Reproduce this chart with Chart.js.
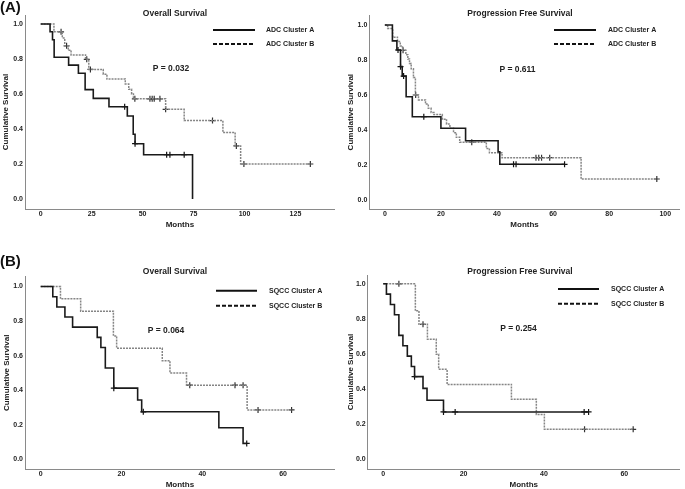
<!DOCTYPE html>
<html>
<head>
<meta charset="utf-8">
<script src="https://cdn.jsdelivr.net/npm/chart.js@4.4.1/dist/chart.umd.min.js"></script>
<style>
  body { margin: 0; background: #fff; }
  #fig { position: relative; width: 685px; height: 489px; overflow: hidden; background: #fff; }
  canvas { position: absolute; }
  .tag { position: absolute; font: bold 15px 'Liberation Sans', Arial, sans-serif; color: #111; }
</style>
</head>
<body>
<div id="fig">
  <canvas id="c1" width="340" height="236" style="left:0;top:0"></canvas>
  <canvas id="c2" width="345" height="236" style="left:340px;top:0"></canvas>
  <canvas id="c3" width="340" height="254" style="left:0;top:240px"></canvas>
  <canvas id="c4" width="345" height="254" style="left:340px;top:240px"></canvas>
  <div class="tag" style="left:0;top:-2px">(A)</div>
  <div class="tag" style="left:0;top:252px">(B)</div>
</div>
<script>
// ---- data (months / cumulative survival) ----
var yTicks = [0, 0.2, 0.4, 0.6, 0.8, 1.0];
var xTicksAdcOs = [0, 25, 50, 75, 100, 125];
var xTicksAdcPfs = [0, 20, 40, 60, 80, 100];
var xTicksSqcc = [0, 20, 40, 60];

var adcLabels = ['ADC Cluster A', 'ADC Cluster B'];
var sqccLabels = ['SQCC Cluster A', 'SQCC Cluster B'];
var titles = ['Overall Survival', 'Progression Free Survival', 'Overall Survival', 'Progression Free Survival'];
var pValues = ['P = 0.032', 'P = 0.611', 'P = 0.064', 'P = 0.254'];

// ADC overall survival
var adcOsA_t = [0, 4.6, 5.8, 6.6, 13.7, 18.5, 21.8, 25.8, 33.5, 42.5, 45.4, 46.3, 50.5, 74.5];
var adcOsA_s = [1, 0.955, 0.91, 0.81, 0.765, 0.718, 0.625, 0.575, 0.527, 0.474, 0.37, 0.316, 0.253, 0];
var adcOsA_c = [41.2, 46.3, 61.8, 63.4, 70.4];
var adcOsB_t = [0, 6.5, 10.6, 11.8, 13.5, 14.9, 22, 23.6, 30.7, 32.5, 41.5, 43.2, 44.6, 45.5, 61.3, 70.4, 89.4, 95.4, 98.1];
var adcOsB_s = [1, 0.955, 0.92, 0.875, 0.85, 0.823, 0.798, 0.74, 0.713, 0.685, 0.657, 0.627, 0.6, 0.572, 0.512, 0.448, 0.38, 0.303, 0.2];
var adcOsB_c = [10, 12.7, 22.6, 24.4, 46.2, 53.6, 54.7, 55.7, 58.5, 61.3, 84.3, 96, 99.7, 132.3];

// ADC progression free survival
var adcPfsA_t = [0, 2.7, 4.3, 5.6, 6.2, 7.6, 9.8, 20, 28.8, 40.4, 41];
var adcPfsA_s = [1, 0.909, 0.857, 0.762, 0.708, 0.59, 0.476, 0.41, 0.339, 0.276, 0.204];
var adcPfsA_c = [4.7, 5.6, 6.7, 13.9, 45.9, 46.8, 64.1];
var adcPfsB_t = [0, 1, 2.8, 4.5, 5.5, 6.3, 7.5, 8.2, 8.8, 9.4, 10.2, 10.9, 12, 14.5, 15.5, 16.5, 17.5, 20.5, 22, 23.2, 24.5, 25.5, 26.7, 36.2, 37.3, 41.8, 70];
var adcPfsB_s = [1, 0.98, 0.93, 0.905, 0.88, 0.855, 0.83, 0.805, 0.78, 0.75, 0.7, 0.6, 0.572, 0.548, 0.524, 0.5, 0.488, 0.462, 0.434, 0.41, 0.385, 0.358, 0.33, 0.295, 0.27, 0.242, 0.12];
var adcPfsB_c = [6.5, 11, 31, 53.9, 54.9, 55.9, 58.8, 97];

// SQCC overall survival
var sqOsA_t = [0, 3, 4, 6, 7.9, 14, 14.9, 16, 18.1, 24, 25, 44.1, 50.1];
var sqOsA_s = [1, 0.941, 0.882, 0.824, 0.765, 0.706, 0.647, 0.529, 0.412, 0.343, 0.275, 0.183, 0.092];
var sqOsA_c = [18.1, 25.4, 51];
var sqOsB_t = [0, 4.9, 9.9, 18, 18.8, 30.1, 32, 36.1, 51.1];
var sqOsB_s = [1, 0.929, 0.857, 0.714, 0.643, 0.571, 0.5, 0.429, 0.286];
var sqOsB_c = [36.9, 48.1, 50.1, 53.8, 62.1];

// SQCC progression free survival
var sqPfsA_t = [0, 0.8, 1.8, 2.8, 3.9, 4.9, 6, 7, 7.8, 9.9, 10.9, 15];
var sqPfsA_s = [1, 0.941, 0.882, 0.824, 0.706, 0.647, 0.588, 0.529, 0.471, 0.404, 0.337, 0.27];
var sqPfsA_c = [7.8, 15, 17.9, 50, 51.1];
var sqPfsB_t = [0, 8, 8.9, 11, 13.2, 13.8, 15.9, 31.9, 38.1, 40.1];
var sqPfsB_s = [1, 0.846, 0.769, 0.684, 0.598, 0.513, 0.427, 0.342, 0.256, 0.171];
var sqPfsB_c = [3.9, 9.9, 50.1, 62.2];

// ---- helpers ----
var FONT = "'Liberation Sans', Arial, sans-serif";
Chart.defaults.font.family = FONT;
Chart.defaults.color = '#222';

function survAt(t, s, x) {
  var v = s[0];
  for (var i = 0; i < t.length; i++) if (t[i] <= x) v = s[i];
  return v;
}
function kmLine(t, s, c) {
  var pts = t.map(function (x, i) { return { x: x, y: s[i] }; });
  var end = Math.max.apply(null, c.concat([0]));
  var last = s[s.length - 1];
  if (end > t[t.length - 1] && last > 0) pts.push({ x: end, y: last });
  return pts;
}
function kmCens(t, s, c) {
  return c.map(function (x) { return { x: x, y: survAt(t, s, x) }; });
}

var notesPlugin = {
  id: 'notes',
  afterDraw: function (chart, args, o) {
    var ctx = chart.ctx;
    ctx.save();
    ctx.fillStyle = '#222';
    ctx.textBaseline = 'middle';
    ctx.font = 'bold 8.5px ' + FONT;
    ctx.textAlign = 'center';
    ctx.fillText(o.title, o.titleX, o.titleY);
    ctx.fillText(o.p, o.pX, o.pY);
    // legend
    ctx.font = 'bold 7px ' + FONT;
    ctx.textAlign = 'left';
    ctx.strokeStyle = '#111';
    ctx.lineWidth = 2;
    for (var i = 0; i < 2; i++) {
      var y = o.ly + i * o.dy;
      ctx.setLineDash(i === 0 ? [] : [4, 2]);
      ctx.beginPath();
      ctx.moveTo(o.lx0, y);
      ctx.lineTo(o.lx1, y);
      ctx.stroke();
      ctx.fillText(o.labels[i], o.tx, y);
    }
    ctx.restore();
  }
};

function panel(id, p) {
  var tickFont = { size: 7, weight: 'bold' };
  var titleFont = { size: 8, weight: 'bold' };
  new Chart(document.getElementById(id), {
    type: 'line',
    data: {
      datasets: [
        { data: kmLine(p.aT, p.aS, p.aC), stepped: 'before', borderColor: '#1a1a1a', borderWidth: 1.6, pointRadius: 0, fill: false },
        { data: kmLine(p.bT, p.bS, p.bC), stepped: 'before', borderColor: '#858585', borderWidth: 1.5, borderDash: [2, 1], pointRadius: 0, fill: false },
        { type: 'scatter', data: kmCens(p.aT, p.aS, p.aC), pointStyle: 'cross', pointRadius: 3, borderColor: '#111', borderWidth: 1.2 },
        { type: 'scatter', data: kmCens(p.bT, p.bS, p.bC), pointStyle: 'cross', pointRadius: 3, borderColor: '#333', borderWidth: 1.2 }
      ]
    },
    options: {
      responsive: false,
      animation: false,
      devicePixelRatio: 1,
      layout: { padding: { left: 0, top: p.top, right: p.right, bottom: 0 } },
      plugins: {
        legend: { display: false },
        tooltip: { enabled: false },
        notes: p.notes
      },
      scales: {
        x: {
          type: 'linear', min: p.xMin, max: p.xMax,
          grid: { display: false, drawTicks: false },
          border: { color: '#8a8a8a', width: 1 },
          ticks: { font: tickFont, padding: 1, autoSkip: false, maxRotation: 0 },
          title: { display: true, text: 'Months', font: titleFont, padding: { top: 0, bottom: p.xTitlePad } },
          afterBuildTicks: function (s) { s.ticks = p.xTicks.map(function (v) { return { value: v }; }); },
          afterFit: function (s) { s.height = p.xH; }
        },
        y: {
          min: p.yMin, max: p.yMax,
          grid: { display: false, drawTicks: false },
          border: { color: '#8a8a8a', width: 1 },
          ticks: { font: tickFont, padding: 2, callback: function (v) { return v.toFixed(1); } },
          title: { display: true, text: 'Cumulative Survival', font: titleFont, padding: { top: p.yTitlePad, bottom: 0 } },
          afterBuildTicks: function (s) { s.ticks = yTicks.map(function (v) { return { value: v }; }); },
          afterFit: function (s) { s.width = p.yW; }
        }
      }
    },
    plugins: [notesPlugin]
  });
}

panel('c1', {
  aT: adcOsA_t, aS: adcOsA_s, aC: adcOsA_c, bT: adcOsB_t, bS: adcOsB_s, bC: adcOsB_c,
  xTicks: xTicksAdcOs, xMin: -7.7, xMax: 144.3, yMin: -0.057, yMax: 1.051,
  top: 15, right: 5, yW: 25, xH: 27, yTitlePad: 1.2, xTitlePad: 6.2,
  notes: { title: titles[0], titleX: 175, titleY: 13.3, p: pValues[0], pX: 171, pY: 69,
           labels: adcLabels, lx0: 213, lx1: 255, ly: 30, dy: 14, tx: 266 }
});
panel('c2', {
  aT: adcPfsA_t, aS: adcPfsA_s, aC: adcPfsA_c, bT: adcPfsB_t, bS: adcPfsB_s, bC: adcPfsB_c,
  xTicks: xTicksAdcPfs, xMin: -5.54, xMax: 105.2, yMin: -0.053, yMax: 1.057,
  top: 15, right: 2, yW: 29.3, xH: 26.7, yTitlePad: 6.4, xTitlePad: 6.2,
  notes: { title: titles[1], titleX: 180, titleY: 13.3, p: pValues[1], pX: 177.5, pY: 70,
           labels: adcLabels, lx0: 214, lx1: 256, ly: 30, dy: 14, tx: 268 }
});
panel('c3', {
  aT: sqOsA_t, aS: sqOsA_s, aC: sqOsA_c, bT: sqOsB_t, bS: sqOsB_s, bC: sqOsB_c,
  xTicks: xTicksSqcc, xMin: -3.88, xMax: 72.8, yMin: -0.056, yMax: 1.057,
  top: 36.7, right: 5, yW: 25, xH: 25, yTitlePad: 1.5, xTitlePad: 4.2,
  notes: { title: titles[2], titleX: 175, titleY: 31.7, p: pValues[2], pX: 166, pY: 90.7,
           labels: sqccLabels, lx0: 216, lx1: 257, ly: 50.7, dy: 15, tx: 269 }
});
panel('c4', {
  aT: sqPfsA_t, aS: sqPfsA_s, aC: sqPfsA_c, bT: sqPfsB_t, bS: sqPfsB_s, bC: sqPfsB_c,
  xTicks: xTicksSqcc, xMin: -3.86, xMax: 73.8, yMin: -0.055, yMax: 1.05,
  top: 35, right: 3.3, yW: 27.7, xH: 25, yTitlePad: 5.5, xTitlePad: 4.2,
  notes: { title: titles[3], titleX: 180, titleY: 31.7, p: pValues[3], pX: 178.5, pY: 89,
           labels: sqccLabels, lx0: 218, lx1: 259, ly: 49, dy: 14.7, tx: 271 }
});
</script>
</body>
</html>
